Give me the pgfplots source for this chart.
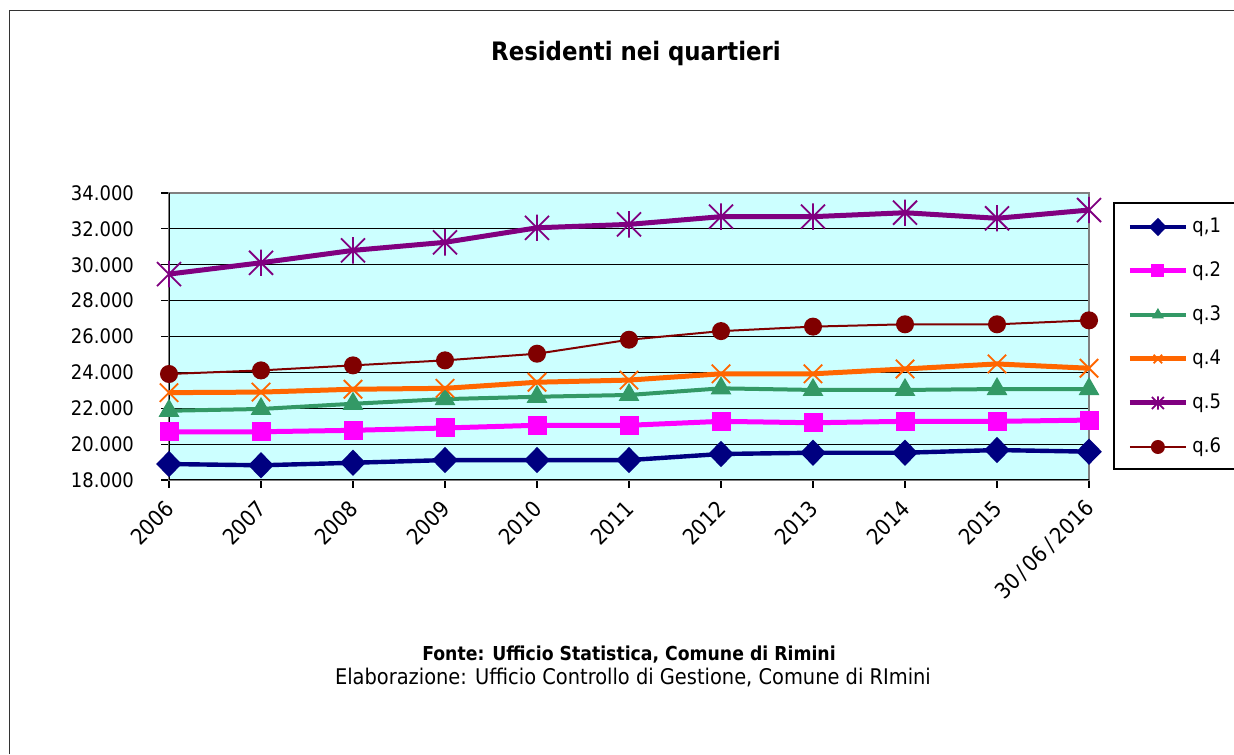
\documentclass[border=0pt]{standalone}
\usepackage{fontspec}
\setmainfont{DejaVu Sans Condensed}
\usepackage{pgfplots}
\pgfplotsset{compat=1.18}

\definecolor{plotbg}{HTML}{CCFFFF}
\definecolor{qone}{HTML}{000080}
\definecolor{qtwo}{HTML}{FF00FF}
\definecolor{qthree}{HTML}{339966}
\definecolor{qfour}{HTML}{FF6600}
\definecolor{qfive}{HTML}{800080}
\definecolor{qsix}{HTML}{800000}

% Excel-like star: an X with a vertical bar
\pgfdeclareplotmark{xstar}{%
  \pgfpathmoveto{\pgfqpoint{-\pgfplotmarksize}{-\pgfplotmarksize}}%
  \pgfpathlineto{\pgfqpoint{\pgfplotmarksize}{\pgfplotmarksize}}%
  \pgfpathmoveto{\pgfqpoint{-\pgfplotmarksize}{\pgfplotmarksize}}%
  \pgfpathlineto{\pgfqpoint{\pgfplotmarksize}{-\pgfplotmarksize}}%
  \pgfpathmoveto{\pgfqpoint{0pt}{-1.1\pgfplotmarksize}}%
  \pgfpathlineto{\pgfqpoint{0pt}{1.1\pgfplotmarksize}}%
  \pgfusepathqstroke}

\newcommand{\dsl}{\kern1.8pt/\kern1.8pt}

\begin{document}
\begin{tikzpicture}
\useasboundingbox (0,0) rectangle (617pt,377pt);
\fill[white] (0,0) rectangle (617pt,377pt);
% outer chart frame (only left and top edges fall inside the picture)
\draw[line width=0.5pt, black!80] (4.5pt,0) -- (4.5pt,371.5pt) -- (617pt,371.5pt);
% legend frame
\draw[line width=0.7pt] (617pt,275.5pt) -- (557pt,275.5pt) -- (557pt,142.5pt) -- (617pt,142.5pt);

\node[font=\bfseries\fontsize{12.7}{15}\selectfont] at (318pt,350pt) {Residenti nei quartieri};
\node[font=\bfseries\fontsize{9.6}{12}\selectfont] at (314.5pt,49.5pt) {Fonte: Ufficio Statistica, Comune di Rimini};
\node[font=\fontsize{10.8}{12}\selectfont] at (316.5pt,38pt) {Elaborazione: Ufficio Controllo di Gestione, Comune di RImini};

\begin{axis}[
  at={(84.5pt,137pt)}, anchor=south west,
  scale only axis, width=460pt, height=143.5pt,
  xmin=0, xmax=10, ymin=18000, ymax=34000,
  xtick={0,...,10},
  xticklabels={2006,2007,2008,2009,2010,2011,2012,2013,2014,2015,30\dsl06\dsl2016},
  ytick={18000,20000,...,34000},
  scaled y ticks=false,
  /pgf/number format/assume math mode=true,
  yticklabel style={font=\fontsize{10}{12}\selectfont, xshift=-10pt,
    /pgf/number format/.cd, 1000 sep={.}, min exponent for 1000 sep=3},
  xticklabel style={font=\fontsize{11}{13}\selectfont, xshift=3pt, yshift=-6pt, rotate=45, anchor=east},
  tick align=outside, tick pos=left, major tick length=4pt,
  tick style={black, line width=0.6pt},
  ymajorgrids=true,
  grid style={black, line width=0.55pt},
  axis background/.style={fill=plotbg},
  axis line style={draw=gray, line width=1pt},
  legend style={draw=none, fill=none, at={(1.0413,0.9596)}, anchor=north west,
    inner sep=0pt, row sep=0pt, column sep=2pt,
    font=\fontsize{10}{12}\selectfont,
    nodes={inner sep=0pt, minimum height=22pt}},
  legend cell align=left,
  legend image code/.code={\draw[mark repeat=2,mark phase=2,#1] plot coordinates {(0pt,0pt) (14pt,0pt) (28pt,0pt)};},
  legend image post style={mark size=3pt},
]
\draw[black, line width=0.7pt] (rel axis cs:0,1) -- (rel axis cs:0,0) -- (rel axis cs:1,0);
\addplot[qone, line width=2.2pt, mark=diamond*, mark size=5pt, mark options={solid, xscale=1.3}] coordinates {
 (0,18890) (1,18820) (2,18960) (3,19110) (4,19110) (5,19110) (6,19450) (7,19520) (8,19520) (9,19670) (10,19580)};
\addlegendentry{q,1}
\addplot[qtwo, line width=2.5pt, mark=square*, mark size=4.5pt, mark options={line width=0.5pt}] coordinates {
 (0,20680) (1,20690) (2,20770) (3,20900) (4,21050) (5,21050) (6,21270) (7,21190) (8,21270) (9,21270) (10,21340)};
\addlegendentry{q.2}
\addplot[qthree, line width=2pt, mark=triangle*, mark size=5.5pt, mark options={line width=0.5pt}] coordinates {
 (0,21860) (1,21960) (2,22250) (3,22510) (4,22640) (5,22740) (6,23110) (7,23020) (8,23020) (9,23070) (10,23070)};
\addlegendentry{q.3}
\addplot[qfour, line width=2.5pt, mark=x, mark size=6.5pt, mark options={line width=0.9pt}] coordinates {
 (0,22870) (1,22900) (2,23060) (3,23110) (4,23450) (5,23570) (6,23920) (7,23920) (8,24190) (9,24470) (10,24230)};
\addlegendentry{q.4}
\addplot[qfive, line width=2.5pt, mark=xstar, mark size=6pt, mark options={line width=0.9pt}] coordinates {
 (0,29480) (1,30110) (2,30800) (3,31250) (4,32060) (5,32250) (6,32680) (7,32680) (8,32900) (9,32590) (10,33050)};
\addlegendentry{q.5}
\addplot[qsix, line width=1pt, mark=*, mark size=4pt] coordinates {
 (0,23910) (1,24110) (2,24390) (3,24670) (4,25040) (5,25820) (6,26300) (7,26550) (8,26680) (9,26680) (10,26900)};
\addlegendentry{q.6}
\end{axis}
\end{tikzpicture}
\end{document}
